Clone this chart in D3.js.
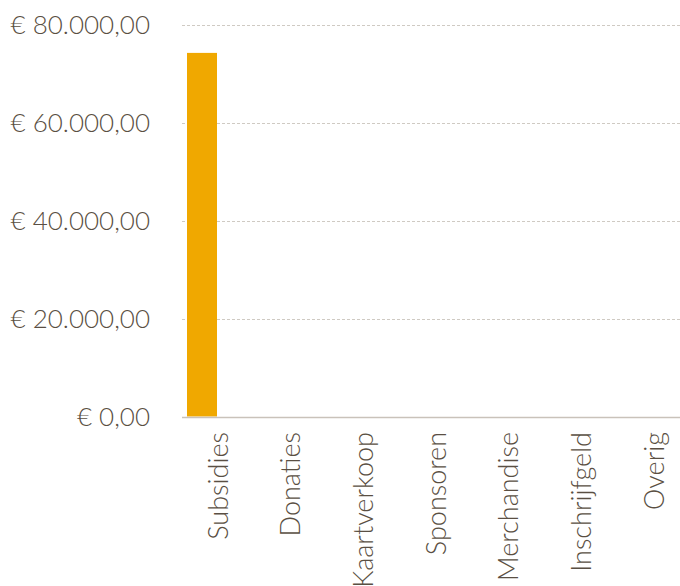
<!DOCTYPE html>
<html>
<head>
<meta charset="utf-8" />
<title>Inkomsten</title>
<style>
  body { margin: 0; background: #fff; }
  svg { display: block; }
  text { font-family: Lato, "Open Sans", sans-serif; font-weight: 300; fill: #5a4f43; }
</style>
</head>
<body>
<svg id="chart"></svg>
<script src="https://d3js.org/d3.v7.min.js"></script>
<script>
var width = 680;
var height = 586;

// categories and amounts (euro)
var categories = ["Subsidies", "Donaties", "Kaartverkoop", "Sponsoren", "Merchandise", "Inschrijfgeld", "Overig"];
var amounts = [74300, 0, 0, 0, 0, 0, 0];
var yTicks = [0, 20000, 40000, 60000, 80000];

var margin = { left: 182, top: 25, bottom: 416.5 };

var svg = d3.select("#chart").attr("width", width).attr("height", height);

var x = d3.scaleBand()
  .domain(categories)
  .range([margin.left, margin.left + 7 * 72.67]);

var y = d3.scaleLinear()
  .domain([0, 80000])
  .range([margin.bottom, margin.top]);

var euro = function(v) {
  var s = d3.format(",.2f")(v); // 80,000.00
  s = s.replace(/,/g, "#").replace(".", ",").replace(/#/g, ".");
  return "€ " + s;
};

// gridlines
svg.append("g")
  .selectAll("line")
  .data(yTicks.filter(function(d) { return d > 0; }))
  .enter().append("line")
  .attr("x1", margin.left)
  .attr("x2", width)
  .attr("y1", function(d) { return Math.round(y(d)) + 0.5; })
  .attr("y2", function(d) { return Math.round(y(d)) + 0.5; })
  .attr("stroke", "#cfcac3")
  .attr("stroke-width", 1)
  .attr("stroke-dasharray", "3,2");

// y labels
svg.append("g")
  .selectAll("text")
  .data(yTicks)
  .enter().append("text")
  .attr("x", 150)
  .attr("y", function(d) { return y(d); })
  .attr("dy", "0.35em")
  .attr("text-anchor", "end")
  .style("font-size", "26px")
  .text(euro);

// bars
svg.append("g")
  .selectAll("rect")
  .data(amounts)
  .enter().append("rect")
  .attr("x", function(d, i) { return x(categories[i]) + 5; })
  .attr("width", 30)
  .attr("y", function(d) { return y(d); })
  .attr("height", function(d) { return y(0) - y(d); })
  .attr("fill", "#f0a800");

// baseline
svg.append("line")
  .attr("x1", margin.left)
  .attr("x2", width)
  .attr("y1", Math.round(y(0)) + 0.5)
  .attr("y2", Math.round(y(0)) + 0.5)
  .attr("stroke", "#c9c2ba")
  .attr("stroke-width", 1.5);

// x labels, rotated
svg.append("g")
  .selectAll("text")
  .data(categories)
  .enter().append("text")
  .attr("transform", function(d) {
    return "translate(" + (x(d) + x.bandwidth() / 2) + "," + 432 + ") rotate(-90)";
  })
  .attr("dy", "0.35em")
  .attr("text-anchor", "end")
  .style("font-size", "27px")
  .text(function(d) { return d; });
</script>
</body>
</html>
